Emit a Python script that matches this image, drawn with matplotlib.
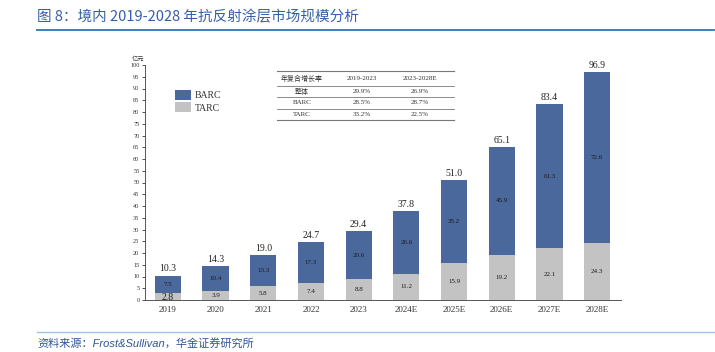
import matplotlib.pyplot as plt
import numpy as np

plt.rcParams['font.family'] = ['Liberation Serif', 'Noto Sans CJK SC', 'DejaVu Sans']

years = ['2019', '2020', '2021', '2022', '2023', '2024E', '2025E', '2026E', '2027E', '2028E']
tarc = [2.8, 3.9, 5.8, 7.4, 8.8, 11.2, 15.9, 19.2, 22.1, 24.3]
barc = [7.5, 10.4, 13.3, 17.3, 20.6, 26.6, 35.2, 45.9, 61.3, 72.6]
total = [10.3, 14.3, 19.0, 24.7, 29.4, 37.8, 51.0, 65.1, 83.4, 96.9]

cagr_header = ['年复合增长率', '2019-2023', '2023-2028E']
cagr_rows = [['整体', '29.9%', '26.9%'],
             ['BARC', '28.5%', '28.7%'],
             ['TARC', '33.2%', '22.5%']]

blue = '#4A689B'
grey = '#C3C3C3'

fig = plt.figure(figsize=(7.15, 3.52), dpi=100)
ax = fig.add_axes([145/715, 1-300/352, 476/715, 235/352])

x = np.arange(len(years))
w = 0.55
ax.bar(x, tarc, w, color=grey, label='TARC')
ax.bar(x, barc, w, bottom=tarc, color=blue, label='BARC')

for i in range(len(years)):
    ax.text(x[i], total[i] + 1, f'{total[i]:.1f}', ha='center', va='bottom', fontsize=7, color='#222222')
    ax.text(x[i], tarc[i] + barc[i]/2, f'{barc[i]:.1f}', ha='center', va='center', fontsize=5, color='#1a1a1a')
    fs = 7 if i == 0 else 5
    ax.text(x[i], tarc[i]/2 - (0.3 if i == 0 else 0), f'{tarc[i]:.1f}', ha='center', va='center', fontsize=fs, color='#1a1a1a')

ax.set_xlim(-0.48, 9.5)
ax.set_ylim(0, 100)
ax.set_yticks(range(0, 101, 5))
ax.set_xticks(x)
ax.set_xticklabels(years, fontsize=6.5)
ax.tick_params(axis='y', labelsize=4.5, length=2, width=0.6, pad=2, colors='#333333')
ax.tick_params(axis='x', length=0, pad=4, colors='#333333')
for s in ['top', 'right']:
    ax.spines[s].set_visible(False)
for s in ['left', 'bottom']:
    ax.spines[s].set_color('#555555')
    ax.spines[s].set_linewidth(0.7)
ax.text(-0.62, 101.5, '亿元', fontsize=4.5, ha='center', va='bottom', color='#333333')

# legend boxes
h, l = ax.get_legend_handles_labels()
leg = ax.legend(h[::-1], l[::-1], loc='upper left', bbox_to_anchor=(0.045, 0.93),
                frameon=False, fontsize=7, handlelength=1.6, handleheight=1.2,
                handletextpad=0.4, labelspacing=0.2)
for t in leg.get_texts():
    t.set_color('#333333')

# CAGR table
tx0, tx1 = 277/715, 454/715
lines_y = [71, 85.5, 97, 108.5, 120]
for j, yy in enumerate(lines_y):
    fig.add_artist(plt.Line2D([tx0, tx1], [1-yy/352, 1-yy/352], color='#777777',
                              lw=0.8 if j in (0, 4) else 0.6))
col_x = [302/715, 362/715, 420/715]
rows = [cagr_header] + cagr_rows
for r, row in enumerate(rows):
    yc = 1 - ((lines_y[r] + lines_y[r+1]) / 2) / 352
    for c, val in enumerate(row):
        fig.text(col_x[c], yc, val, ha='center', va='center', fontsize=5, color='#333333')

# title and footer
fig.text(37/715, 1-17/352, '图 8：境内 2019-2028 年抗反射涂层市场规模分析', fontsize=10.5,
         color='#3560A6', va='center', ha='left', family=['Noto Sans CJK SC', 'DejaVu Sans'])
fig.add_artist(plt.Line2D([37/715, 714/715], [1-29.5/352, 1-29.5/352], color='#2E75B6', lw=1.3))
fig.add_artist(plt.Line2D([37/715, 714/715], [1-332/352, 1-332/352], color='#9DC3E6', lw=1.0))
fig.text(37/715, 1-343/352, '资料来源：Frost&Sullivan，华金证券研究所', fontsize=8,
         color='#2F5597', va='center', ha='left', style='italic',
         family=['Liberation Sans', 'Noto Sans CJK SC', 'DejaVu Sans'])

fig.savefig('out.png', dpi=100)
